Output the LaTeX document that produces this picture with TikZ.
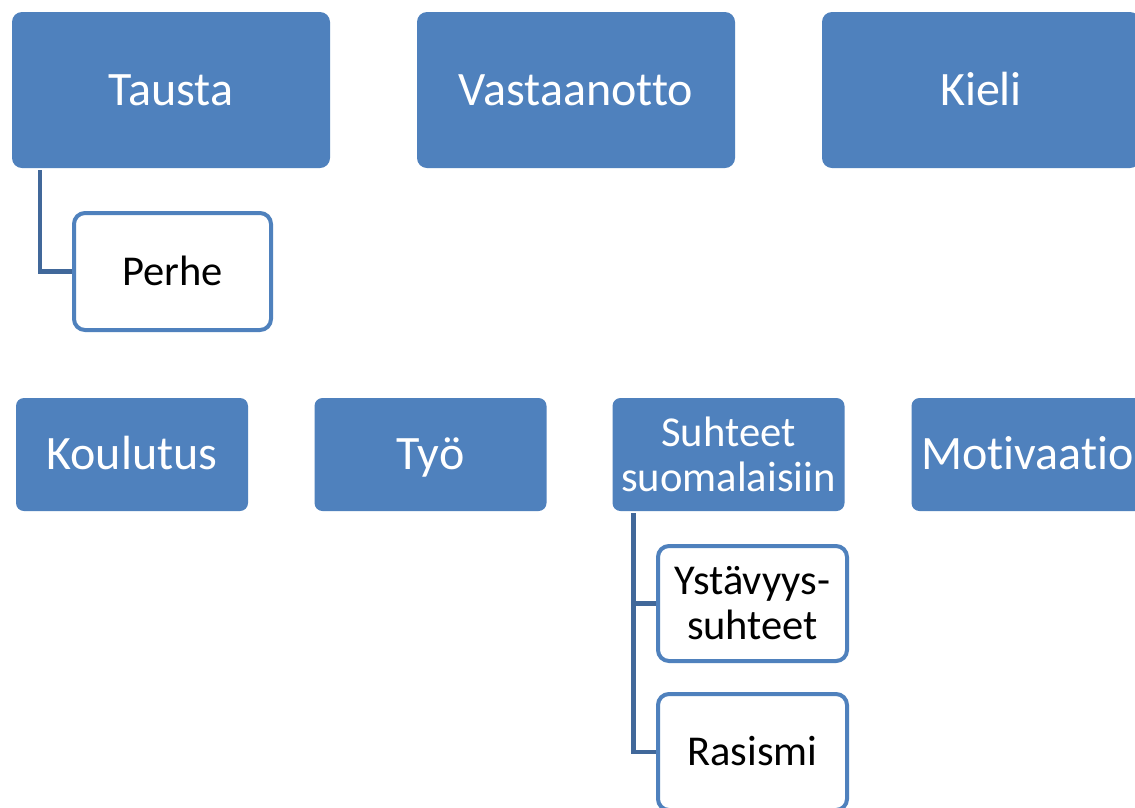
\documentclass[tikz,border=0pt]{standalone}
\usepackage{fontspec}
\setmainfont{Carlito}[Ligatures=NoCommon]
\usetikzlibrary{calc}
\definecolor{boxblue}{HTML}{4F81BD}
\definecolor{connblue}{HTML}{41689A}
\tikzset{
  bigtxt/.style={text height=42.9pt, text depth=12pt},
  smalltxt/.style={text height=38pt, text depth=10.6pt},
  topbox/.style={fill=boxblue, draw=none, rounded corners=10pt, inner sep=0pt,
    minimum width=318pt, minimum height=156pt, text=white,
    font=\fontsize{48}{52}\selectfont, align=center},
  midbox/.style={fill=boxblue, draw=none, rounded corners=8pt, inner sep=0pt,
    minimum width=232pt, minimum height=113pt, text=white,
    font=\fontsize{48}{52}\selectfont, align=center},
  childbox/.style={fill=white, draw=boxblue, line width=4pt, rounded corners=11pt, inner sep=0pt,
    text=black, font=\fontsize{42.5}{45}\selectfont, align=center},
  conn/.style={draw=connblue, line width=4.5pt}
}
\begin{document}
\begin{tikzpicture}[x=1pt,y=-1pt]
\clip (0,0) rectangle (1135,807);
\fill[white] (0,0) rectangle (1135,807);
% top row
\node[topbox, bigtxt] (tausta) at (171,90) {Tausta};
\node[topbox, bigtxt] (vastaanotto) at (576,90) {Vastaanotto};
\node[topbox, bigtxt] (kieli) at (981,90) {Kieli};
\node[childbox, smalltxt, minimum width=197pt, minimum height=117pt] (perhe) at (172.5,271.5) {Perhe};
\draw[conn] ($(tausta.south west)+(28,2)$) |- (perhe.west);
% second row
\node[midbox, bigtxt] (koulutus) at (132,454.5) {Koulutus};
\node[midbox, bigtxt] (tyo) at (430.5,454.5) {Työ};
\node[midbox, font=\fontsize{42.6}{45}\selectfont] (suhteet) at (728.5,454.5) {Suhteet\\suomalaisiin};
\node[midbox, bigtxt] (motivaatio) at (1027.5,454.5) {Motivaatio};
\node[childbox, minimum width=189pt, minimum height=115pt] (ystavyys) at (752.5,603.5) {Ystävyys-\\suhteet};
\node[childbox, smalltxt, minimum width=189pt, minimum height=116pt] (rasismi) at (752.5,752) {Rasismi};
\draw[conn] ($(suhteet.south west)+(21,2)$) |- (ystavyys.west);
\draw[conn] ($(suhteet.south west)+(21,2)$) |- (rasismi.west);
\end{tikzpicture}
\end{document}
